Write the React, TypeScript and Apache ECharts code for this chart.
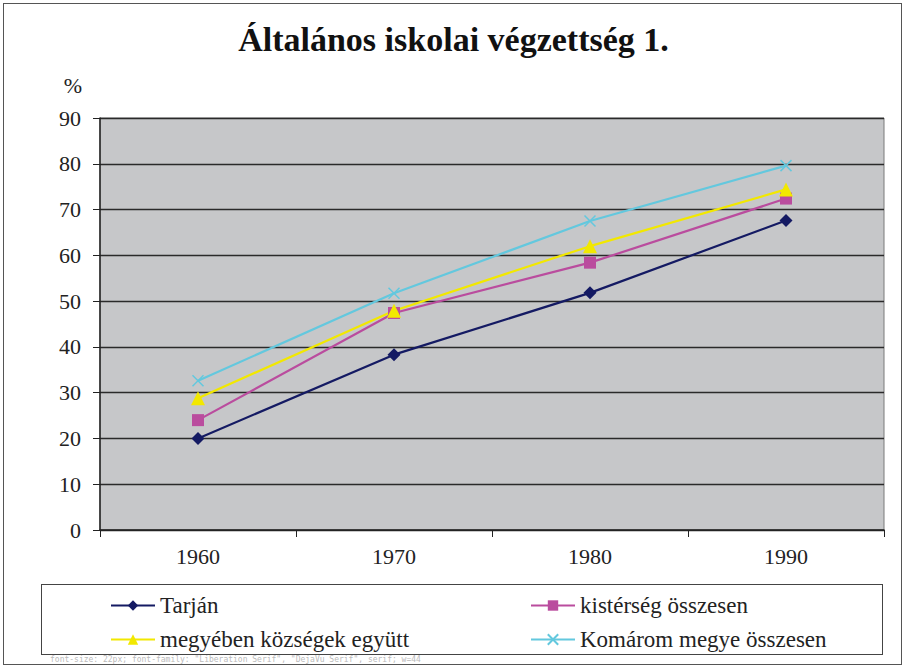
import React, { useEffect, useRef, useState } from "react";
import * as echarts from "echarts";

const years = ["1960", "1970", "1980", "1990"];
const tarjan = [20, 38.3, 51.8, 67.6];
const kisterseg = [24, 47.4, 58.4, 72.4];
const megyeben = [28.8, 47.9, 62, 74.4];
const komarom = [32.6, 51.7, 67.5, 79.6];

const seriesNames = [
  "Tarján",
  "kistérség összesen",
  "megyében községek együtt",
  "Komárom megye összesen",
];

const FONT = "'Liberation Serif', 'DejaVu Serif', serif";

export default function App() {
  const ref = useRef<HTMLDivElement>(null);
  const [info, setInfo] = useState("");
  useEffect(() => {
    if (!ref.current) return;
    const chart = echarts.init(ref.current, undefined, { renderer: "svg" });
    const crossPath = "path://M0,0L10,10M10,0L0,10";
    const mk = (name: string, data: number[], color: string, symbol: string, size: number, extra: any = {}) => ({
      name,
      type: "line",
      data,
      symbol,
      symbolSize: size,
      lineStyle: { color, width: 2.2 },
      itemStyle: { color, ...extra },
      emphasis: { disabled: true },
    });
    const legendText = { fontFamily: FONT, fontSize: 23, color: "#222" };
    const labelRich = { t: { fontFamily: FONT, fontSize: 22, color: "#222" } };
    const option = {
      animation: false,
      backgroundColor: "#ffffff",
      textStyle: { fontFamily: FONT, fontSize: 22 },
      title: {
        text: "Általános iskolai végzettség 1.",
        left: "center",
        top: 17,
        textStyle: { fontFamily: FONT, fontSize: 34, fontWeight: "bold", color: "#111" },
      },
      grid: {
        left: 100,
        right: 23,
        top: 118,
        bottom: 140,
        show: true,
        backgroundColor: "#C6C7C9",
        borderColor: "#7a7a7a",
        borderWidth: 1,
      },
      xAxis: {
        type: "category",
        data: years,
        boundaryGap: true,
        axisLine: { lineStyle: { color: "#222", width: 1.5 } },
        axisTick: { show: true, inside: false, length: 7, lineStyle: { color: "#222" } },
        axisLabel: {
          fontFamily: FONT,
          fontSize: 22,
          color: "#222",
          margin: 15,
          formatter: "{t|{value}}",
          rich: labelRich,
        },
        splitLine: { show: false },
      },
      yAxis: {
        type: "value",
        min: 0,
        max: 90,
        interval: 10,
        name: "%",
        nameLocation: "end",
        nameGap: 22,
        nameTextStyle: { fontFamily: FONT, fontSize: 22, color: "#222", align: "right", padding: [0, 18, 0, 0] },
        axisLine: { show: true, lineStyle: { color: "#222", width: 1.5 } },
        axisTick: { show: true, inside: false, length: 7, lineStyle: { color: "#222" } },
        axisLabel: {
          fontFamily: FONT,
          fontSize: 22,
          color: "#222",
          margin: 19,
          formatter: "{t|{value}}",
          rich: labelRich,
        },
        splitLine: { show: true, lineStyle: { color: "#2a2a2a", width: 1.3 } },
      },
      legend: [
        {
          data: [seriesNames[0], seriesNames[2]],
          orient: "vertical",
          left: 105,
          top: 589,
          itemWidth: 44,
          itemHeight: 13,
          itemGap: 11,
          textStyle: legendText,
        },
        {
          data: [seriesNames[1], seriesNames[3]],
          orient: "vertical",
          left: 525,
          top: 589,
          itemWidth: 44,
          itemHeight: 13,
          itemGap: 11,
          textStyle: legendText,
        },
      ],
      series: [
        mk(seriesNames[0], tarjan, "#141a63", "diamond", 13),
        mk(seriesNames[1], kisterseg, "#BA4C9E", "rect", 12),
        mk(seriesNames[2], megyeben, "#F2E800", "triangle", 14),
        mk(seriesNames[3], komarom, "#63C8DE", crossPath, 11, {
          borderColor: "#63C8DE",
          borderWidth: 1.5,
          color: "none",
        }),
      ],
    };
    chart.setOption(option);
    const texts = Array.from(ref.current.querySelectorAll("text")) as any[];
    const t = texts.find((e) => e.textContent === "1960");
    let w = "";
    try {
      w = t ? String(Math.round(t.getBBox().width)) : "none";
    } catch (e) {
      w = "err";
    }
    setInfo((t ? t.getAttribute("style") : "") + " w=" + w);
    return () => {
      chart.dispose();
    };
  }, []);
  return (
    <div>
      <div ref={ref} style={{ position: "absolute", left: 0, top: 0, width: 907, height: 670 }} />
      <div
        style={{
          position: "absolute",
          left: 3,
          top: 3,
          width: 897,
          height: 660,
          border: "1.5px solid #555",
          pointerEvents: "none",
        }}
      />
      <div
        style={{
          position: "absolute",
          left: 41,
          top: 584,
          width: 840,
          height: 69,
          border: "1px solid #444",
          pointerEvents: "none",
        }}
      />
      <pre
        style={{
          position: "absolute",
          left: 50,
          top: 655,
          margin: 0,
          fontSize: 8,
          lineHeight: "9px",
          color: "#bbb",
        }}
      >
        {info}
      </pre>
    </div>
  );
}
